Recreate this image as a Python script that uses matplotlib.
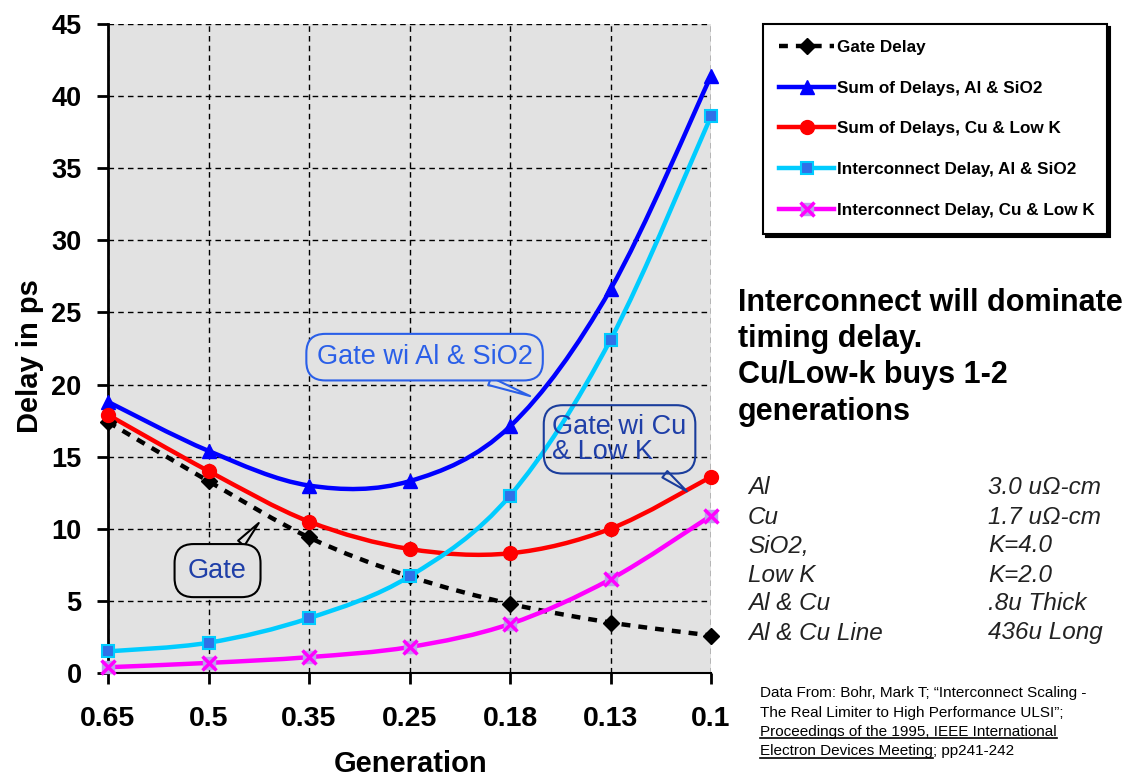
import numpy as np
import matplotlib.pyplot as plt
from matplotlib.path import Path
from matplotlib.patches import PathPatch
from matplotlib.lines import Line2D
from matplotlib.legend_handler import HandlerTuple

plt.rcParams['font.family'] = ['Liberation Sans', 'DejaVu Sans']

# Data (delays in ps per technology generation)
generations = ['0.65', '0.5', '0.35', '0.25', '0.18', '0.13', '0.1']
gate_delay = [17.4, 13.3, 9.4, 6.7, 4.8, 3.5, 2.6]
sum_al_sio2 = [18.8, 15.4, 13.0, 13.3, 17.1, 26.6, 41.4]
sum_cu_lowk = [17.9, 14.0, 10.5, 8.6, 8.3, 10.0, 13.6]
ic_al_sio2 = [1.5, 2.1, 3.8, 6.7, 12.3, 23.1, 38.6]
ic_cu_lowk = [0.4, 0.7, 1.1, 1.8, 3.4, 6.5, 10.9]

params = [('Al', '3.0 u\u03a9-cm'), ('Cu', '1.7 u\u03a9-cm'), ('SiO2,', 'K=4.0'),
          ('Low K', 'K=2.0'), ('Al & Cu', '.8u Thick'), ('Al & Cu Line', '436u Long')]

W, H = 1137, 779
def fx(px):
    return px / W
def fy(py):
    return 1 - py / H


def smooth_path(xs, ys):
    # excel-style smoothed line as cubic beziers through the points
    pts = np.column_stack([xs, ys]).astype(float)
    ext = np.vstack([pts[0], pts, pts[-1]])
    verts = [pts[0]]
    codes = [Path.MOVETO]
    for i in range(len(pts) - 1):
        p0, p1, p2, p3 = ext[i], ext[i + 1], ext[i + 2], ext[i + 3]
        verts += [p1 + (p2 - p0) / 6, p2 - (p3 - p1) / 6, p2]
        codes += [Path.CURVE4] * 3
    return Path(verts, codes)


fig = plt.figure(figsize=(11.37, 7.79), dpi=100)
ax = fig.add_axes([fx(108), fy(673), fx(711) - fx(108), fy(24) - fy(673)])
ax.set_facecolor('#e2e2e2')
x = np.arange(len(generations))

series = [
    (gate_delay, 'black', (0, (2, 1.8)), dict(marker='D', color='black', ms=8), 'Gate Delay'),
    (sum_al_sio2, '#0000ff', '-', dict(marker='^', color='#0000ff', ms=10), 'Sum of Delays, Al & SiO2'),
    (sum_cu_lowk, '#ff0000', '-', dict(marker='o', color='#ff0000', ms=10), 'Sum of Delays, Cu & Low K'),
    (ic_al_sio2, '#00ccff', '-', dict(marker='s', mfc='#3070e8', mec='#00ccff', ms=8, mew=1.5), 'Interconnect Delay, Al & SiO2'),
    (ic_cu_lowk, '#ff00ff', '-', dict(marker='s', mfc='#b8a4e8', mec='#b8a4e8', ms=9), 'Interconnect Delay, Cu & Low K'),
]

handles = []
labels = []
for vals, col, ls, mk, lab in series:
    ax.add_patch(PathPatch(smooth_path(x, vals), fill=False, ec=col, lw=3.2, ls=ls, zorder=3))
    ax.plot(x, vals, ls='none', zorder=4, clip_on=False, **mk)
    h = Line2D([], [], lw=3.2, ls=ls, **{**mk, 'color': col})
    if lab.startswith('Interconnect Delay, Cu'):
        ax.plot(x, vals, ls='none', marker='x', color='#ff00ff', ms=10, mew=2.5, zorder=5, clip_on=False)
        h = (h, Line2D([], [], ls='none', marker='x', color='#ff00ff', ms=10, mew=2.5))
    handles.append(h)
    labels.append(lab)

ax.set_xlim(0, 6)
ax.set_ylim(0, 45)
ax.set_yticks(np.arange(0, 46, 5))
ax.set_xticks(x)
ax.set_xticklabels(generations)
ax.grid(True, color='black', ls=(0, (4, 3)), lw=1)
ax.set_axisbelow(True)
for s in ['top', 'right']:
    ax.spines[s].set_visible(False)
ax.spines['left'].set_linewidth(2)
ax.spines['bottom'].set_linewidth(1.5)
ax.tick_params(axis='y', length=8, width=2, labelsize=19.5, pad=11)
ax.tick_params(axis='x', length=8, width=2, labelsize=20.5, pad=16)
for t in ax.get_xticklabels() + ax.get_yticklabels():
    t.set_fontweight('bold')

ax.set_xlabel('Generation', fontsize=21, fontweight='bold')
ax.set_ylabel('Delay in ps', fontsize=21, fontweight='bold')
ax.xaxis.set_label_coords(0.502, -0.119)
ax.yaxis.set_label_coords(-0.106, 0.488)

# callouts
ax.annotate('Gate wi Al & SiO2', xy=(4.2, 19.2), xytext=(3.15, 21.9), fontsize=19.5,
            color='#2a5fe8', ha='center', va='center',
            bbox=dict(boxstyle='round,pad=0.38,rounding_size=0.7', fc='#e2e2e2', ec='#2a5fe8', lw=1.5),
            arrowprops=dict(arrowstyle='wedge,tail_width=0.3', fc='#e2e2e2', ec='#2a5fe8', lw=1.5,
                            shrinkA=0, shrinkB=0), zorder=6)
ax.annotate('Gate wi Cu\n& Low K', xy=(5.76, 12.6), xytext=(5.09, 16.2), fontsize=19.5,
            color='#1f3fa8', ha='center', va='center', multialignment='left', linespacing=0.95,
            bbox=dict(boxstyle='round,pad=0.32,rounding_size=0.7', fc='none', ec='#1a3d9c', lw=1.5),
            arrowprops=dict(arrowstyle='wedge,tail_width=0.3', fc='none', ec='#1a3d9c', lw=1.5,
                            shrinkA=0, shrinkB=0), zorder=6)
ax.annotate('Gate', xy=(1.5, 10.4), xytext=(1.09, 7.1), fontsize=19.5,
            color='#1f3fa8', ha='center', va='center',
            bbox=dict(boxstyle='round,pad=0.5,rounding_size=0.7', fc='#e2e2e2', ec='black', lw=1.5),
            arrowprops=dict(arrowstyle='wedge,tail_width=0.3', fc='#e2e2e2', ec='black', lw=1.5,
                            shrinkA=0, shrinkB=0), zorder=6)

leg = ax.legend(handles, labels, loc='upper left',
                bbox_to_anchor=(fx(763), fy(24), fx(1107) - fx(763), 0),
                bbox_transform=fig.transFigure, mode='expand', borderaxespad=0,
                prop=dict(weight='bold', size=12.3), handlelength=3.2, handletextpad=0.18,
                labelspacing=1.5, borderpad=0.95, fancybox=False, framealpha=1,
                shadow=dict(color='black', alpha=1),
                handler_map={tuple: HandlerTuple(ndivide=1)})
leg.get_frame().set_edgecolor('black')
leg.get_frame().set_linewidth(1.5)

fig.text(fx(738), fy(288), 'Interconnect will dominate\ntiming delay.\nCu/Low-k buys 1-2\ngenerations',
         fontsize=22, fontweight='bold', va='top', ha='left', linespacing=1.27)

for i, (k, v) in enumerate(params):
    y = fy(488 + i * 29)
    fig.text(fx(748), y, k, fontsize=17.5, style='italic', va='center', color='#222222')
    fig.text(fx(988), y, v, fontsize=17.5, style='italic', va='center', color='#222222')

cite_lines = ['Data From: Bohr, Mark T; \u201cInterconnect Scaling -',
              'The Real Limiter to High Performance ULSI\u201d;',
              'Proceedings of the 1995, IEEE International',
              'Electron Devices Meeting']
cite_texts = []
for i, line in enumerate(cite_lines):
    cite_texts.append(fig.text(fx(760), fy(697 + i * 19.5), line, fontsize=11, va='baseline'))

fig.canvas.draw()
r = fig.canvas.get_renderer()
for t in cite_texts[2:]:
    bb = t.get_window_extent(r)
    yl = bb.y0 + 1
    fig.add_artist(Line2D([bb.x0 / W, bb.x1 / W], [yl / H, yl / H], color='black', lw=1.2,
                          transform=fig.transFigure))
bb = cite_texts[3].get_window_extent(r)
fig.text(bb.x1 / W, fy(697 + 3 * 19.5), '; pp241-242', fontsize=11, va='baseline')

fig.savefig('out.png', dpi=100)
